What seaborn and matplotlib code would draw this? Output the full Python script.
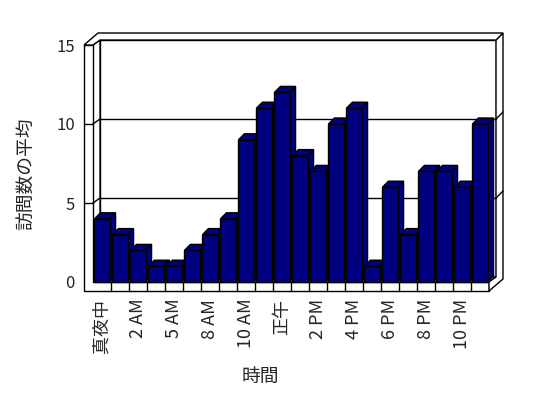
import numpy as np
import pandas as pd
import seaborn as sns
import matplotlib.pyplot as plt
from matplotlib.patches import Polygon

# datos
horas = ['真夜中', '1 AM', '2 AM', '4 AM', '5 AM', '7 AM', '8 AM', '9 AM', '10 AM', '11 AM',
         '正午', '1 PM', '2 PM', '3 PM', '4 PM', '5 PM', '6 PM', '7 PM', '8 PM', '9 PM',
         '10 PM', '11 PM']
visitas = [4, 3, 2, 1, 1, 2, 3, 4, 9, 11, 12, 8, 7, 10, 11, 1, 6, 3, 7, 7, 6, 10]
yticks = [0, 5, 10, 15]

df = pd.DataFrame({'hora': horas, 'visitas': visitas})

sns.set_theme(style='white')
plt.rcParams['font.family'] = ['Noto Sans CJK JP', 'DejaVu Sans']

fig = plt.figure(figsize=(5.48, 3.98), dpi=100)
ax = fig.add_axes([93 / 548, 116 / 398, 396 / 548, 237 / 398])

n = len(horas)
x0, x1 = -0.5, n - 0.5
ymax = 15
# profundidad (en unidades de datos) de paredes y barras
dxw, dyw = 7 / 18, 5 / 15.8      # pared del fondo
btx, bty = 7 / 18, 7 / 15.8      # grosor pared del fondo
tw = 9 / 18                      # grosor pared izquierda
ft = 9 / 15.8                    # grosor del piso
bdx, bdy = 6 / 18, 6 / 15.8      # profundidad de las barras
DX, DY = dxw + btx, dyw + bty
Xb = x1 + dxw

kw = dict(facecolor='white', edgecolor='black', linewidth=1, clip_on=False)

# pared del fondo
ax.add_patch(Polygon([(x0 + dxw, dyw), (Xb, dyw), (Xb, ymax + dyw), (x0 + dxw, ymax + dyw)],
                     zorder=1, **kw))
# piso (cara superior)
ax.add_patch(Polygon([(x0, 0), (x1, 0), (Xb, dyw), (x0 + dxw, dyw)], zorder=1.2, **kw))
# pared izquierda (cara interior)
ax.add_patch(Polygon([(x0, 0), (x0, ymax), (x0 + dxw, ymax + dyw), (x0 + dxw, dyw)],
                     zorder=1.2, **kw))
# frente: pared izquierda + piso
ax.add_patch(Polygon([(x0 - tw, -ft), (x1, -ft), (x1, 0), (x0, 0), (x0, ymax), (x0 - tw, ymax)],
                     zorder=1.2, **kw))
# lado derecho
ax.add_patch(Polygon([(x1, -ft), (x1, 0), (Xb, dyw), (Xb, ymax + dyw),
                      (x1 + DX, ymax + DY), (x1 + DX, -ft + DY)], zorder=1.2, **kw))
# tapa superior
ax.add_patch(Polygon([(x0 - tw, ymax), (x0, ymax), (x0 + dxw, ymax + dyw), (Xb, ymax + dyw),
                      (x1 + DX, ymax + DY), (x0 - tw + DX, ymax + DY)], zorder=1.2, **kw))

# lineas de division
for v in yticks[1:-1]:
    ax.plot([x0 + dxw, Xb], [v + dyw, v + dyw], color='black', lw=1, zorder=1.5, clip_on=False)
    ax.plot([x0, x0 + dxw], [v, v + dyw], color='black', lw=1, zorder=1.5, clip_on=False)
    ax.plot([x0 - tw, x0], [v, v], color='black', lw=1, zorder=1.5, clip_on=False)
    ax.plot([Xb, Xb + btx], [v + dyw, v + DY], color='black', lw=1, zorder=1.5, clip_on=False)
for k in range(n - 1):
    ax.plot([k + 0.5, k + 0.5], [-ft, 0], color='black', lw=1, zorder=1.5, clip_on=False)

# barras
sns.barplot(data=df, x='hora', y='visitas', color='#000080', saturation=1,
            edgecolor='black', linewidth=1, width=0.84, ax=ax)

for i, p in enumerate(ax.patches[-n:]):
    xl = p.get_x()
    xr = xl + p.get_width()
    h = p.get_height()
    p.set_zorder(10 + 3 * i + 1)
    p.set_clip_on(False)
    ax.add_patch(Polygon([(xr, 0), (xr, h), (xr + bdx, h + bdy), (xr + bdx, bdy)],
                         facecolor='#000080', edgecolor='black', lw=1,
                         zorder=10 + 3 * i, clip_on=False))
    ax.add_patch(Polygon([(xl, h), (xr, h), (xr + bdx, h + bdy), (xl + bdx, h + bdy)],
                         facecolor='#000080', edgecolor='black', lw=1,
                         zorder=10 + 3 * i, clip_on=False))

ax.set_xlim(x0, x1)
ax.set_ylim(0, ymax)
ax.set_yticks(yticks)
ax.set_yticklabels([str(v) for v in yticks], fontsize=12)
ax.set_xticks(range(0, n, 2))
ax.set_xticklabels(horas[::2], rotation=90, fontsize=13)
ax.tick_params(axis='y', length=0, pad=13)
ax.tick_params(axis='x', length=0, pad=12)
for s in ax.spines.values():
    s.set_visible(False)
ax.set_facecolor('none')

ax.set_xlabel('時間', fontsize=13.5, ha='center', va='center')
ax.set_ylabel('訪問数の平均', fontsize=13.5, ha='center', va='center')
ax.xaxis.set_label_coords(0.422, -0.40)
ax.yaxis.set_label_coords(-0.169, 0.456)

fig.savefig('out.png', dpi=100)
